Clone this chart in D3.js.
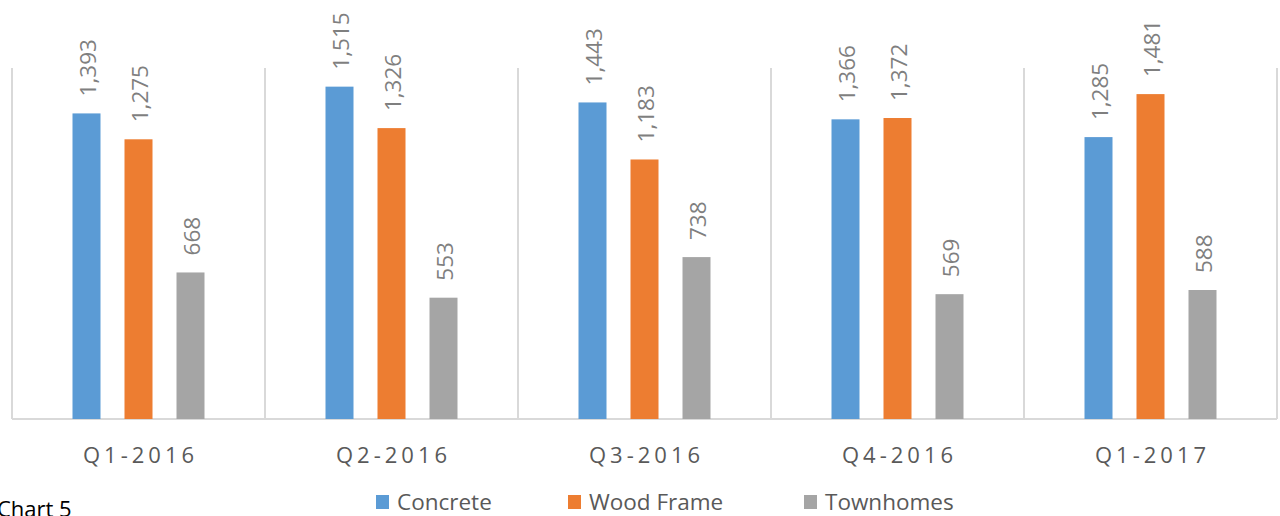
<!DOCTYPE html>
<html><head><meta charset="utf-8">
<script src="https://cdn.jsdelivr.net/npm/d3@7"></script>
<style>body{margin:0;background:#fff;overflow:hidden}</style>
</head><body>
<svg id="c" width="1280" height="516"></svg>
<script>
const categories = ["Q1-2016","Q2-2016","Q3-2016","Q4-2016","Q1-2017"];
const seriesNames = ["Concrete","Wood Frame","Townhomes"];
const concrete = [1393,1515,1443,1366,1285];
const woodFrame = [1275,1326,1183,1372,1481];
const townhomes = [668,553,738,569,588];
const colors = ["#5b9bd5","#ed7d31","#a5a5a5"];
const series = [concrete, woodFrame, townhomes];

const svg = d3.select("#c");
const font = "'Open Sans', 'Noto Sans', sans-serif";
const plotL = 12, plotR = 1277, plotT = 68, plotB = 419;
const x = d3.scaleBand().domain(categories).range([plotL, plotR]).paddingInner(0).paddingOuter(0);
const y = d3.scaleLinear().domain([0,1600]).range([plotB, plotT]);
const barW = 28, step = 52;

// separators
const seps = d3.range(categories.length+1).map(i => plotL + i*x.bandwidth());
svg.selectAll("line.sep").data(seps).enter().append("line")
  .attr("x1",d=>d).attr("x2",d=>d).attr("y1",plotT).attr("y2",plotB)
  .attr("stroke","#d9d9d9").attr("stroke-width",2);
svg.append("line").attr("x1",plotL).attr("x2",plotR).attr("y1",plotB).attr("y2",plotB)
  .attr("stroke","#d9d9d9").attr("stroke-width",2);

series.forEach((vals, si) => {
  const g = svg.append("g");
  categories.forEach((c, ci) => {
    const cx = x(c) + x.bandwidth()/2 + (si-1)*step;
    g.append("rect").attr("x", cx - barW/2).attr("y", y(vals[ci]))
      .attr("width", barW).attr("height", plotB - y(vals[ci]))
      .attr("fill", colors[si]);
    g.append("text")
      .attr("transform", `translate(${cx+9},${y(vals[ci]) - 17}) rotate(-90)`)
      .attr("font-family", font).attr("font-size", 22.5).attr("fill", "#7f7f7f")
      .text(d3.format(",")(vals[ci]));
  });
});

// x labels
svg.selectAll("text.xl").data(categories).enter().append("text")
  .attr("x", d => x(d) + x.bandwidth()/2 + 2).attr("y", 463)
  .attr("text-anchor","middle").attr("font-family", font).attr("font-size",22)
  .attr("letter-spacing","4px").attr("fill","#595959").text(d=>d);

// legend
const legX = [376, 568, 804];
seriesNames.forEach((n,i) => {
  svg.append("rect").attr("x",legX[i]).attr("y",495).attr("width",13).attr("height",14).attr("fill",colors[i]);
  svg.append("text").attr("x",legX[i]+21).attr("y",510).attr("font-family",font)
    .attr("font-size",22.5).attr("fill","#595959").text(n);
});

svg.append("text").attr("x",-3).attr("y",517).attr("font-family",font)
  .attr("font-size",22).attr("fill","#000").text("Chart 5");
</script>
</body></html>
